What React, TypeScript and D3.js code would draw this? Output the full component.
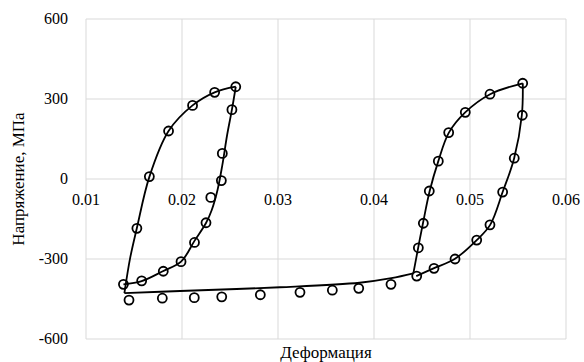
import React from "react";
import * as d3 from "d3";

// model curve segments [strain, stress MPa]
const loop1Up: [number, number][] = [
  [0.014, -428], [0.0146, -296], [0.0153, -184], [0.0166, 8],
  [0.0186, 180], [0.0211, 276], [0.0234, 325], [0.0256, 346],
];
const loop1Down: [number, number][] = [
  [0.0256, 346], [0.0252, 260], [0.0247, 165], [0.0242, 52],
  [0.0237, -41], [0.0231, -116], [0.0225, -165], [0.0213, -232],
  [0.0199, -310], [0.0180, -346], [0.0158, -383], [0.0139, -395],
];
const transit: [number, number][] = [
  [0.014, -428], [0.0198, -420], [0.0302, -406], [0.0385, -389],
  [0.0418, -372], [0.0441, -354],
];
const loop2Up: [number, number][] = [
  [0.0441, -354], [0.0446, -258], [0.0451, -166], [0.0458, -45],
  [0.0467, 67], [0.0478, 174], [0.0495, 250], [0.0521, 318], [0.0555, 359],
];
const loop2Down: [number, number][] = [
  [0.0555, 359], [0.0554, 239], [0.0546, 78], [0.0534, -49],
  [0.0521, -172], [0.0507, -229], [0.0484, -300], [0.0462, -335],
  [0.0444, -364],
];

// experimental points
const expStrain = [
  0.0139, 0.0153, 0.0166, 0.0186, 0.0211, 0.0234, 0.0256, 0.0252, 0.0242, 0.0241,
  0.0230, 0.0225, 0.0213, 0.0199, 0.01805, 0.0158,
  0.01448, 0.01795, 0.02128, 0.02414, 0.02816, 0.03229, 0.03566, 0.03841, 0.04177,
  0.04445, 0.04462, 0.04514, 0.04576, 0.0467, 0.04778, 0.04951, 0.05208, 0.05549,
  0.05545, 0.05461, 0.0534, 0.05208, 0.0507, 0.04844, 0.04625,
];
const expStress = [
  -395, -185, 9, 180, 276, 325, 346, 260, 96, -6,
  -69, -164, -238, -310, -346, -382,
  -454, -447, -445, -442, -434, -425, -417, -410, -395,
  -364, -258, -166, -45, 67, 174, 250, 318, 359,
  239, 78, -49, -172, -229, -300, -335,
];

const xTicks = [0.01, 0.02, 0.03, 0.04, 0.05, 0.06];
const yTicks = [-600, -300, 0, 300, 600];

export default function App() {
  const W = 584, H = 362;
  const m = { left: 86, right: 18, top: 19, bottom: 23 };
  const x = d3.scaleLinear().domain([0.01, 0.06]).range([m.left, W - m.right]);
  const y = d3.scaleLinear().domain([-600, 600]).range([H - m.bottom, m.top]);
  const line = d3
    .line<[number, number]>()
    .x((d) => x(d[0]))
    .y((d) => y(d[1]))
    .curve(d3.curveCatmullRom.alpha(0.5));
  const txt = { fontFamily: "Liberation Serif, DejaVu Serif, serif", fill: "#000" };

  return (
    <svg width={W} height={H} style={{ position: "absolute", left: 0, top: 0, background: "#fff" }}>
      {/* grid */}
      {yTicks.map((t) => (
        <line key={"gy" + t} x1={x(0.01)} x2={x(0.06)} y1={y(t)} y2={y(t)} stroke="#d9d9d9" strokeWidth={1} />
      ))}
      {xTicks.map((t) => (
        <line key={"gx" + t} x1={x(t)} x2={x(t)} y1={y(600)} y2={y(-600)} stroke="#d9d9d9" strokeWidth={1} />
      ))}
      {/* tick labels */}
      {yTicks.map((t) => (
        <text key={"ty" + t} x={m.left - 18} y={y(t) + 5} textAnchor="end" fontSize={16} style={txt}>
          {t}
        </text>
      ))}
      {xTicks.map((t) => (
        <text key={"tx" + t} x={x(t)} y={y(0) + 26} textAnchor="middle" fontSize={16} style={txt}>
          {t}
        </text>
      ))}
      {/* model curves */}
      {[loop1Up, loop1Down, transit, loop2Up, loop2Down].map((seg, i) => (
        <path key={"s" + i} d={line(seg) ?? ""} fill="none" stroke="#000" strokeWidth={1.8} />
      ))}
      {/* experimental markers */}
      {expStrain.map((e, i) => (
        <circle key={"p" + i} cx={x(e)} cy={y(expStress[i])} r={4.5} fill="none" stroke="#000" strokeWidth={1.8} />
      ))}
      {/* axis titles */}
      <text x={(m.left + W - m.right) / 2} y={H - 4} textAnchor="middle" fontSize={17} style={txt}>
        Деформация
      </text>
      <text
        transform={`translate(24,${(y(600) + y(-600)) / 2}) rotate(-90)`}
        textAnchor="middle"
        fontSize={17}
        style={txt}
      >
        Напряжение, МПа
      </text>
    </svg>
  );
}
